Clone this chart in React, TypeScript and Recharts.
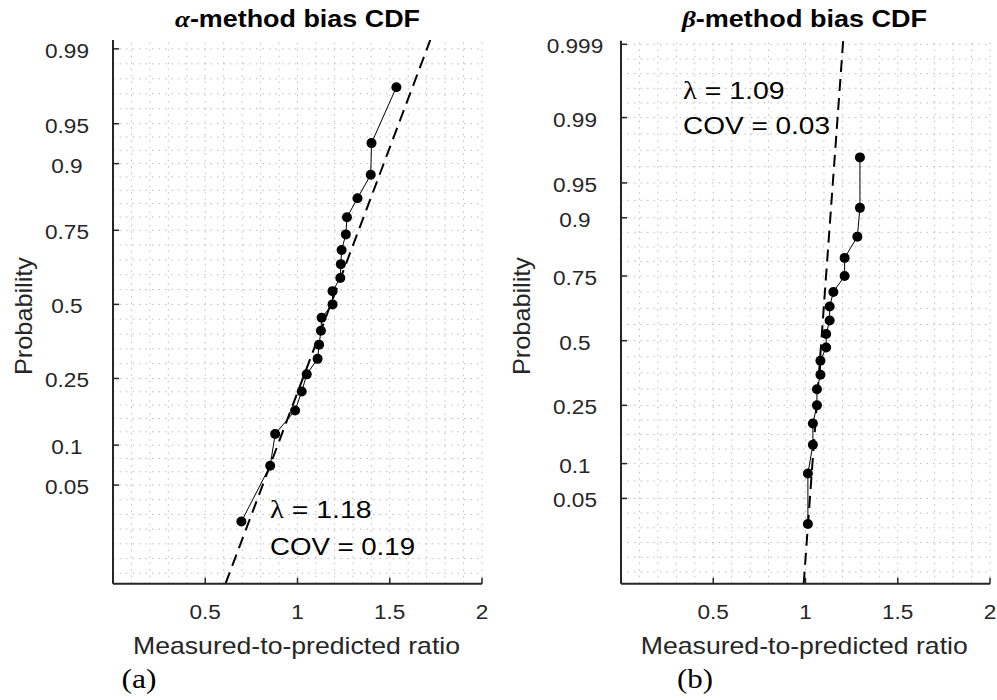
import React from 'react';
import { ComposedChart, Line, Scatter, XAxis, YAxis, ReferenceLine } from 'recharts';

// ---- data ----
const alphaRatio = [0.696, 0.852, 0.879, 0.987, 1.023, 1.05, 1.109, 1.117, 1.127, 1.131, 1.19, 1.19, 1.232, 1.235, 1.239, 1.262, 1.268, 1.325, 1.397, 1.401, 1.536];
const alphaProb = [0.024, 0.071, 0.119, 0.167, 0.214, 0.262, 0.31, 0.357, 0.405, 0.452, 0.5, 0.548, 0.595, 0.643, 0.69, 0.738, 0.786, 0.833, 0.881, 0.929, 0.976];
const betaRatio = [1.013, 1.013, 1.04, 1.04, 1.062, 1.062, 1.081, 1.081, 1.112, 1.112, 1.131, 1.131, 1.151, 1.212, 1.212, 1.281, 1.295, 1.295];
const betaProb = [0.028, 0.083, 0.139, 0.194, 0.25, 0.306, 0.361, 0.417, 0.472, 0.528, 0.583, 0.639, 0.694, 0.75, 0.806, 0.861, 0.917, 0.972];

const alphaFit = { mean: 1.18, sd: 0.2242 };
const betaFit = { mean: 1.086, sd: 0.0378 };

const probTicksA = [0.05, 0.1, 0.25, 0.5, 0.75, 0.9, 0.95, 0.99];
const probTicksB = [0.05, 0.1, 0.25, 0.5, 0.75, 0.9, 0.95, 0.99, 0.999];
const probLabelsA = ['0.05', '0.1', '0.25', '0.5', '0.75', '0.9', '0.95', '0.99'];
const probLabelsB = ['0.05', '0.1', '0.25', '0.5', '0.75', '0.9', '0.95', '0.99', '0.999'];
const ratioTicks = [0.5, 1, 1.5, 2];
const ratioLabels = ['0.5', '1', '1.5', '2'];

const zRangeA: [number, number] = [-2.543, 2.407];
const zRangeB: [number, number] = [-2.534, 3.128];

// inverse standard normal CDF (Acklam)
function probit(p: number): number {
  const a = [-3.969683028665376e1, 2.209460984245205e2, -2.759285104469687e2, 1.38357751867269e2, -3.066479806614716e1, 2.506628277459239];
  const b = [-5.447609879822406e1, 1.615858368580409e2, -1.556989798598866e2, 6.680131188771972e1, -1.328068155288572e1];
  const c = [-7.784894002430293e-3, -3.223964580411365e-1, -2.400758277161838, -2.549732539343734, 4.374664141464968, 2.938163982698783];
  const d = [7.784695709041462e-3, 3.224671290700398e-1, 2.445134137142996, 3.754408661907416];
  const pl = 0.02425;
  if (p < pl) {
    const q = Math.sqrt(-2 * Math.log(p));
    return (((((c[0] * q + c[1]) * q + c[2]) * q + c[3]) * q + c[4]) * q + c[5]) / ((((d[0] * q + d[1]) * q + d[2]) * q + d[3]) * q + 1);
  }
  if (p > 1 - pl) {
    const q = Math.sqrt(-2 * Math.log(1 - p));
    return -(((((c[0] * q + c[1]) * q + c[2]) * q + c[3]) * q + c[4]) * q + c[5]) / ((((d[0] * q + d[1]) * q + d[2]) * q + d[3]) * q + 1);
  }
  const q = p - 0.5;
  const r = q * q;
  return (((((a[0] * r + a[1]) * r + a[2]) * r + a[3]) * r + a[4]) * r + a[5]) * q / (((((b[0] * r + b[1]) * r + b[2]) * r + b[3]) * r + b[4]) * r + 1);
}

function minorGrid(ticksZ: number[], lo: number, hi: number, pxPerZ: number, spacing = 14.7) {
  const out: number[] = [];
  const t = [...ticksZ].sort((x, y) => x - y);
  const step = spacing / pxPerZ;
  for (let z = t[0] - step; z > lo + 0.02; z -= step) out.push(z);
  out.push(t[0]);
  for (let i = 0; i < t.length - 1; i++) {
    const n = Math.max(1, Math.round(((t[i + 1] - t[i]) * pxPerZ) / spacing));
    for (let k = 1; k <= n; k++) out.push(t[i] + ((t[i + 1] - t[i]) * k) / n);
  }
  for (let z = t[t.length - 1] + step; z < hi - 0.02; z += step) out.push(z);
  return out;
}

const vGrid = Array.from({ length: 20 }, (_, i) => (i + 1) / 10);

const FONT = '"Liberation Sans", Arial, Helvetica, sans-serif';
const SERIF = '"Liberation Serif", "Times New Roman", serif';
const AX = '#262626';
const GRID = '#bdbdbd';

// width of a numeric label (Arial metrics), stretched like the reference
const numWidth = (s: string, f: number) =>
  s.split('').reduce((w, ch) => w + (ch === '.' ? 0.278 : 0.556), 0) * f * 1.13;

type PanelProps = {
  ratio: number[];
  prob: number[];
  fit: { mean: number; sd: number };
  probTicks: number[];
  probLabels: string[];
  zRange: [number, number];
  left: number;
  width: number;
  marginLeft: number;
  marginRight: number;
  top: number;
  bottom: number;
};

const TICK_F = 20;

const Panel = (p: PanelProps) => {
  const H = 700;
  const yAxisW = 60;
  const xAxisH = 40;
  const pts = p.ratio.map((r, i) => ({ x: r, z: probit(p.prob[i]) }));
  const fitLine = [
    { x: p.fit.mean + p.fit.sd * p.zRange[0], z: p.zRange[0] },
    { x: p.fit.mean + p.fit.sd * p.zRange[1], z: p.zRange[1] },
  ];
  const zTicks = p.probTicks.map(probit);
  const pxPerZ = (p.bottom - p.top) / (p.zRange[1] - p.zRange[0]);
  const hGrid = minorGrid(zTicks, p.zRange[0], p.zRange[1], pxPerZ);

  const YTick = (tp: any) => {
    const { x, y, payload } = tp;
    const idx = zTicks.findIndex((z) => Math.abs(z - payload.value) < 1e-6);
    const lbl = idx >= 0 ? p.probLabels[idx] : '';
    return (
      <g>
        <line x1={x} y1={y} x2={x + 6} y2={y} stroke={AX} strokeWidth={1.5} />
        <text
          x={x - 46}
          y={y + 9}
          textAnchor="middle"
          fontSize={TICK_F}
          fill={AX}
          fontFamily={FONT}
          textLength={numWidth(lbl, TICK_F)}
          lengthAdjust="spacingAndGlyphs"
        >
          {lbl}
        </text>
      </g>
    );
  };
  const XTick = (tp: any) => {
    const { x, y, payload } = tp;
    const idx = ratioTicks.findIndex((v) => Math.abs(v - payload.value) < 1e-6);
    const lbl = idx >= 0 ? ratioLabels[idx] : '';
    return (
      <g>
        <line x1={x} y1={y} x2={x} y2={y - 6} stroke={AX} strokeWidth={1.5} />
        <text
          x={x}
          y={y + 35}
          textAnchor="middle"
          fontSize={TICK_F}
          fill={AX}
          fontFamily={FONT}
          textLength={numWidth(lbl, TICK_F)}
          lengthAdjust="spacingAndGlyphs"
        >
          {lbl}
        </text>
      </g>
    );
  };

  return (
    <div style={{ position: 'absolute', left: p.left, top: 0 }}>
      <ComposedChart
        width={p.width}
        height={H}
        margin={{ top: p.top, left: p.marginLeft - yAxisW, right: p.marginRight, bottom: H - p.bottom - xAxisH }}
      >
        <XAxis
          type="number"
          dataKey="x"
          domain={[0, 2]}
          ticks={ratioTicks}
          interval={0}
          tickSize={0}
          tickMargin={0}
          tickLine={false}
          tick={<XTick />}
          height={xAxisH}
          axisLine={{ stroke: AX, strokeWidth: 2 }}
          allowDataOverflow
        />
        <YAxis
          type="number"
          dataKey="z"
          domain={p.zRange}
          ticks={zTicks}
          interval={0}
          tickSize={0}
          tickMargin={0}
          tickLine={false}
          tick={<YTick />}
          width={yAxisW}
          axisLine={{ stroke: AX, strokeWidth: 2 }}
          allowDataOverflow
        />
        {vGrid.map((v) => (
          <ReferenceLine key={'v' + v} x={v} stroke={GRID} strokeDasharray="1.5 5" strokeWidth={1} />
        ))}
        {hGrid.map((z, i) => (
          <ReferenceLine key={'h' + i} y={z} stroke={GRID} strokeDasharray="1.5 5" strokeWidth={1} />
        ))}
        <Line
          data={fitLine}
          dataKey="z"
          type="linear"
          stroke="#000"
          strokeWidth={2}
          strokeDasharray="12 7"
          dot={false}
          activeDot={false}
          isAnimationActive={false}
        />
        <Scatter
          data={pts}
          dataKey="z"
          fill="#000"
          line={{ stroke: '#000', strokeWidth: 1 }}
          shape={(sp: any) => <circle cx={sp.cx} cy={sp.cy} r={5} fill="#000" />}
          isAnimationActive={false}
        />
      </ComposedChart>
    </div>
  );
};

const TextOverlay = () => (
  <svg width={997} height={700} style={{ position: 'absolute', left: 0, top: 0, pointerEvents: 'none' }}>
    <text x={297.5} y={26.5} textAnchor="middle" fontSize={23} fontWeight="bold" fontFamily={FONT} fill="#000" textLength={245} lengthAdjust="spacingAndGlyphs">
      <tspan fontFamily={SERIF} fontStyle="italic">α</tspan>-method bias CDF
    </text>
    <text x={804.5} y={26.5} textAnchor="middle" fontSize={23} fontWeight="bold" fontFamily={FONT} fill="#000" textLength={245} lengthAdjust="spacingAndGlyphs">
      <tspan fontFamily={SERIF} fontStyle="italic">β</tspan>-method bias CDF
    </text>
    <text x={32} y={316} transform="rotate(-90 32 316)" textAnchor="middle" fontSize={24} fontFamily={FONT} fill={AX} textLength={118} lengthAdjust="spacingAndGlyphs">
      Probability
    </text>
    <text x={530} y={316} transform="rotate(-90 530 316)" textAnchor="middle" fontSize={24} fontFamily={FONT} fill={AX} textLength={118} lengthAdjust="spacingAndGlyphs">
      Probability
    </text>
    <text x={296.5} y={654} textAnchor="middle" fontSize={24} fontFamily={FONT} fill={AX} textLength={327} lengthAdjust="spacingAndGlyphs">
      Measured-to-predicted ratio
    </text>
    <text x={804.3} y={654} textAnchor="middle" fontSize={24} fontFamily={FONT} fill={AX} textLength={327} lengthAdjust="spacingAndGlyphs">
      Measured-to-predicted ratio
    </text>
    <text x={139} y={688} textAnchor="middle" fontSize={28} fontFamily={SERIF} fill="#000" textLength={35} lengthAdjust="spacingAndGlyphs">
      (a)
    </text>
    <text x={695} y={688} textAnchor="middle" fontSize={28} fontFamily={SERIF} fill="#000" textLength={36} lengthAdjust="spacingAndGlyphs">
      (b)
    </text>
    <text x={270} y={518} fontSize={24.5} fontFamily={FONT} fill="#000" textLength={101.7} lengthAdjust="spacingAndGlyphs">
      <tspan fontFamily={SERIF}>λ</tspan> = 1.18
    </text>
    <text x={270} y={555} fontSize={24.5} fontFamily={FONT} fill="#000" textLength={145} lengthAdjust="spacingAndGlyphs">
      COV = 0.19
    </text>
    <text x={683} y={99} fontSize={24.5} fontFamily={FONT} fill="#000" textLength={101.7} lengthAdjust="spacingAndGlyphs">
      <tspan fontFamily={SERIF}>λ</tspan> = 1.09
    </text>
    <text x={683} y={134} fontSize={24.5} fontFamily={FONT} fill="#000" textLength={147} lengthAdjust="spacingAndGlyphs">
      COV = 0.03
    </text>
  </svg>
);

export default function App() {
  return (
    <div style={{ position: 'absolute', left: 0, top: 0, width: 997, height: 700, background: '#fff', overflow: 'hidden' }}>
      <Panel
        ratio={alphaRatio}
        prob={alphaProb}
        fit={alphaFit}
        probTicks={probTicksA}
        probLabels={probLabelsA}
        zRange={zRangeA}
        left={0}
        width={497}
        marginLeft={113}
        marginRight={15}
        top={40}
        bottom={583.7}
      />
      <Panel
        ratio={betaRatio}
        prob={betaProb}
        fit={betaFit}
        probTicks={probTicksB}
        probLabels={probLabelsB}
        zRange={zRangeB}
        left={497}
        width={500}
        marginLeft={124}
        marginRight={7}
        top={40.7}
        bottom={583.7}
      />
      <TextOverlay />
    </div>
  );
}
